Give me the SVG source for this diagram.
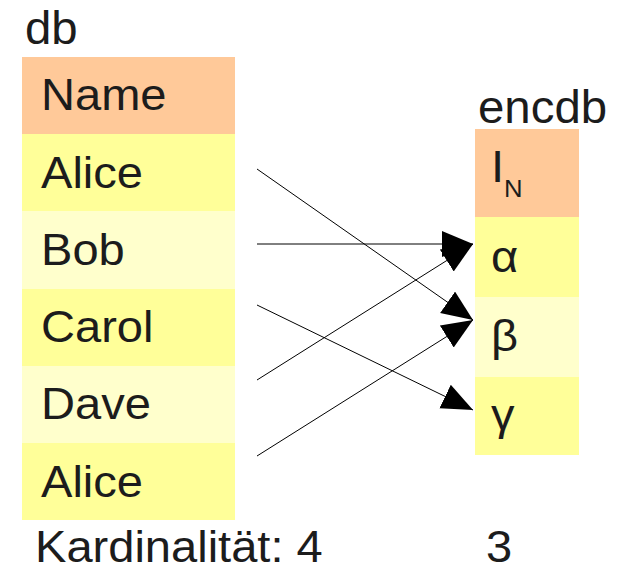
<svg xmlns="http://www.w3.org/2000/svg" width="628" height="566" viewBox="0 0 628 566">
<defs>
<style>
text{font-family:"Liberation Sans",Arial,sans-serif;fill:#1c1c1c;}
.t{font-size:44px;}
.lbl{font-size:46px;}
.hd{fill:#ffc999;}
.y1{fill:#ffff99;}
.y2{fill:#ffffcc;}
.c{stroke:#000;stroke-width:1;fill:none;marker-end:url(#ah);}
</style>
<marker id="ah" markerUnits="userSpaceOnUse" markerWidth="32" markerHeight="28" refX="31" refY="13" orient="auto" viewBox="0 0 32 28">
<path d="M0,0 L31,13 L0,26 z" fill="#000"/>
</marker>
</defs>
<rect width="628" height="566" fill="#fff"/>
<g id="db-label"><text class="lbl" transform="translate(25,44) scale(1.03,1)">db</text></g>
<g id="db-name"><rect class="hd" x="22" y="57" width="213" height="77"/><text class="t" transform="translate(41,110) scale(1.07,1)">Name</text></g>
<g id="db-alice1"><rect class="y1" x="22" y="134" width="213" height="77"/><text class="t" transform="translate(41,188) scale(1.07,1)">Alice</text></g>
<g id="db-bob"><rect class="y2" x="22" y="211" width="213" height="78"/><text class="t" transform="translate(41,265) scale(1.07,1)">Bob</text></g>
<g id="db-carol"><rect class="y1" x="22" y="289" width="213" height="77"/><text class="t" transform="translate(41,342) scale(1.07,1)">Carol</text></g>
<g id="db-dave"><rect class="y2" x="22" y="366" width="213" height="77"/><text class="t" transform="translate(41,419) scale(1.07,1)">Dave</text></g>
<g id="db-alice2"><rect class="y1" x="22" y="443" width="213" height="77"/><text class="t" transform="translate(41,497) scale(1.07,1)">Alice</text></g>
<g id="db-card"><text class="t" transform="translate(35,562) scale(1.07,1)">Kardinalität: 4</text></g>
<g id="encdb-label"><text class="lbl" transform="translate(478,123) scale(1.03,1)">encdb</text></g>
<g id="enc-head"><rect class="hd" x="475" y="129" width="104" height="88"/><text class="t" transform="translate(491,182) scale(1.07,1)">I<tspan font-size="24" dy="15">N</tspan></text></g>
<g id="enc-alpha"><rect class="y1" x="475" y="217" width="104" height="80"/><text class="t" transform="translate(491,272) scale(1.07,1)">α</text></g>
<g id="enc-beta"><rect class="y2" x="475" y="297" width="104" height="80"/><text class="t" transform="translate(491,351) scale(1.07,1)">β</text></g>
<g id="enc-gamma"><rect class="y1" x="475" y="377" width="104" height="78"/><text class="t" transform="translate(491,430) scale(1.07,1)">γ</text></g>
<g id="enc-card"><text class="t" transform="translate(486,562) scale(1.07,1)">3</text></g>
<g id="connectors">
<line class="c" x1="257" y1="169" x2="473" y2="320"/>
<line class="c" x1="257" y1="244" x2="473" y2="244"/>
<line class="c" x1="257" y1="305" x2="473" y2="410"/>
<line class="c" x1="257" y1="380" x2="473" y2="244"/>
<line class="c" x1="257" y1="456" x2="473" y2="320"/>
</g>
</svg>
